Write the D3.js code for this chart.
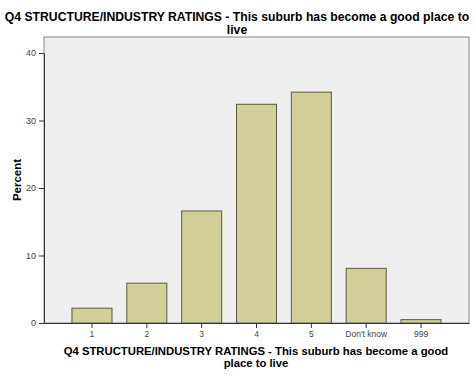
<!DOCTYPE html>
<html><head><meta charset="utf-8">
<script src="https://cdn.jsdelivr.net/npm/d3@7/dist/d3.min.js"></script>
<style>body{margin:0;background:#fff;}svg{display:block;font-family:Arial,"Liberation Sans",sans-serif;}</style>
</head><body>
<script>
const categories = ["1","2","3","4","5","Don't know","999"];
const values = [2.2, 5.9, 16.6, 32.4, 34.2, 8.1, 0.5];
const yTicks = [0,10,20,30,40];

const W=474,H=379;
const svg=d3.select("body").append("svg").attr("width",W).attr("height",H);
const L=44,R=469,T=37,B=323;
svg.append("rect").attr("x",L).attr("y",T).attr("width",R-L).attr("height",B-T).attr("fill","#efefef").attr("stroke","#8a8a8a").attr("stroke-width",1);
const x=d3.scaleBand().domain(categories).range([L,R]).paddingInner(0.27).paddingOuter(0.51);
const y=d3.scaleLinear().domain([0,40]).range([B,B-270]);

svg.selectAll("rect.bar").data(values).join("rect").attr("class","bar")
 .attr("x",(d,i)=>x(categories[i])).attr("width",x.bandwidth())
 .attr("y",d=>y(d)).attr("height",d=>y(0)-y(d))
 .attr("fill","#d3cf98").attr("stroke","#5c5a48").attr("stroke-width",1);

const xa=svg.append("g").attr("transform",`translate(0,${B})`).call(d3.axisBottom(x).tickSize(5).tickSizeOuter(0));
xa.select(".domain").attr("stroke","#333");
xa.selectAll("line").attr("stroke","#333");
xa.selectAll("text").attr("font-size","8.5px").attr("fill","#444").attr("font-family","Arial");
const ya=svg.append("g").attr("transform",`translate(${L},0)`).call(d3.axisLeft(y).tickValues(yTicks).tickSize(5).tickSizeOuter(0));
ya.select(".domain").attr("stroke","#333");
ya.selectAll("line").attr("stroke","#333");
ya.selectAll("text").attr("font-size","9px").attr("fill","#444").attr("font-family","Arial");

const t1=svg.append("text").attr("x",237).attr("y",21).attr("text-anchor","middle").attr("font-weight","bold").attr("font-size","12.2px")
 .text("Q4 STRUCTURE/INDUSTRY RATINGS - This suburb has become a good place to");
svg.append("text").attr("x",237).attr("y",34).attr("text-anchor","middle").attr("font-weight","bold").attr("font-size","12.2px").text("live");
svg.append("text").attr("x",256).attr("y",355).attr("text-anchor","middle").attr("font-weight","bold").attr("font-size","11.3px")
 .text("Q4 STRUCTURE/INDUSTRY RATINGS - This suburb has become a good");
svg.append("text").attr("x",256).attr("y",367).attr("text-anchor","middle").attr("font-weight","bold").attr("font-size","11.3px").text("place to live");
svg.append("text").attr("transform","translate(21,180) rotate(-90)").attr("text-anchor","middle").attr("font-weight","bold").attr("font-size","11.5px").text("Percent");
</script>
</body></html>
